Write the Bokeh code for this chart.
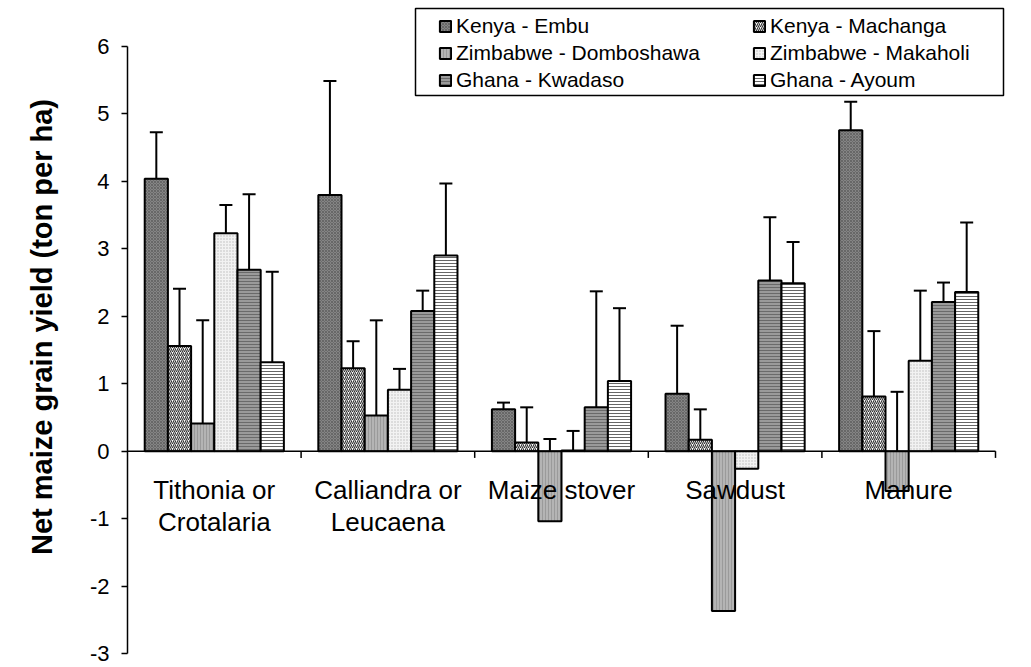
import numpy as np
from bokeh.plotting import figure
from bokeh.models import (ColumnDataSource, Range1d, FixedTicker, Whisker, TeeHead,
                          Legend, LegendItem, BoxAnnotation)
from bokeh.core.properties import value
from bokeh.embed import file_html
from bokeh.resources import INLINE

# ---------------- data ----------------
categories = ["Tithonia or\nCrotalaria", "Calliandra or\nLeucaena", "Maize stover", "Sawdust", "Manure"]
series_names = ["Kenya - Embu", "Kenya - Machanga", "Zimbabwe - Domboshawa",
                "Zimbabwe - Makaholi", "Ghana - Kwadaso", "Ghana - Ayoum"]

kenya_embu        = [4.04, 3.80, 0.62, 0.85, 4.76]
kenya_machanga    = [1.56, 1.23, 0.13, 0.17, 0.81]
zim_domboshawa    = [0.41, 0.53, -1.04, -2.37, -0.59]
zim_makaholi      = [3.23, 0.91, 0.01, -0.26, 1.34]
ghana_kwadaso     = [2.69, 2.08, 0.65, 2.53, 2.21]
ghana_ayoum       = [1.32, 2.90, 1.04, 2.49, 2.36]

err_kenya_embu     = [0.69, 1.69, 0.10, 1.01, 0.42]
err_kenya_machanga = [0.85, 0.40, 0.52, 0.45, 0.97]
err_zim_domboshawa = [1.53, 1.41, 1.22, 1.99, 1.47]
err_zim_makaholi   = [0.42, 0.31, 0.29, 0.06, 1.04]
err_ghana_kwadaso  = [1.12, 0.30, 1.72, 0.94, 0.29]
err_ghana_ayoum    = [1.34, 1.07, 1.08, 0.61, 1.03]

y_ticks = [-3, -2, -1, 0, 1, 2, 3, 4, 5, 6]
y_tick_labels = ["-3", "-2", "-1", "0", "1", "2", "3", "4", "5", "6"]
y_title = "Net maize grain yield (ton per ha)"

values = [kenya_embu, kenya_machanga, zim_domboshawa, zim_makaholi, ghana_kwadaso, ghana_ayoum]
errors = [err_kenya_embu, err_kenya_machanga, err_zim_domboshawa, err_zim_makaholi,
          err_ghana_kwadaso, err_ghana_ayoum]

# ---------------- styles ----------------
styles = [
    dict(fill_color="#858585", hatch_pattern="x", hatch_color="#5a5a5a", hatch_scale=3, hatch_weight=0.7),
    dict(fill_color="#ffffff", hatch_pattern="/", hatch_color="#303030", hatch_scale=4, hatch_weight=1.1),
    dict(fill_color="#b4b4b4", hatch_pattern="|", hatch_color="#9a9a9a", hatch_scale=3, hatch_weight=1),
    dict(fill_color="#f2f2f2", hatch_pattern="dot", hatch_color="#bcbcbc", hatch_scale=3, hatch_weight=1),
    dict(fill_color="#9a9a9a", hatch_pattern="-", hatch_color="#6a6a6a", hatch_scale=3, hatch_weight=1),
    dict(fill_color="#ffffff", hatch_pattern="-", hatch_color="#666666", hatch_scale=3, hatch_weight=1),
]

FONT = "Liberation Sans"
n_cat = len(categories)
n_ser = len(series_names)
bar_w = 0.1336

# layout (pixels)
W, H = 1031, 667
frame_left, axis_right, frame_bottom, y6_px = 127, 995, 653, 46
px_per_cat = (axis_right - frame_left) / n_cat
px_per_unit = (frame_bottom - y6_px) / 9.0
x_max = n_cat + (W - axis_right) / px_per_cat
y_max = 6 + y6_px / px_per_unit

p = figure(width=W, height=H, x_range=Range1d(0, x_max), y_range=Range1d(-3, y_max),
           output_backend="svg", toolbar_location=None, x_axis_location=None,
           min_border_left=frame_left, min_border_right=0, min_border_top=0,
           min_border_bottom=H - frame_bottom)
p.outline_line_color = None
p.xgrid.visible = False
p.ygrid.visible = False
p.background_fill_color = "white"

yax = p.yaxis[0]
yax.bounds = (-3, 6)
yax.ticker = FixedTicker(ticks=y_ticks)
yax.major_label_overrides = {t: l for t, l in zip(y_ticks, y_tick_labels)}
yax.major_tick_out = 6
yax.major_tick_in = 0
yax.minor_tick_out = 0
yax.minor_tick_in = 0
yax.axis_line_width = 1.5
yax.major_tick_line_width = 1.5
yax.axis_line_color = "black"
yax.major_tick_line_color = "black"
yax.major_label_text_font = FONT
yax.major_label_text_font_size = "22px"
yax.major_label_text_color = "black"
yax.major_label_standoff = 12
yax.axis_label = y_title
yax.axis_label_text_font = FONT
yax.axis_label_text_font_size = "29px"
yax.axis_label_text_font_style = "bold"
yax.axis_label_text_color = "black"
yax.axis_label_standoff = 29

legend_items = []
for j in range(n_ser):
    xs = [i + 0.5 + (j - (n_ser - 1) / 2) * bar_w for i in range(n_cat)]
    vals = values[j]
    uppers = [v + e for v, e in zip(vals, errors[j])]
    src = ColumnDataSource(dict(x=xs, top=vals, upper=uppers))
    r = p.vbar(x="x", top="top", bottom=0, width=bar_w, source=src,
               line_color="black", line_width=2, **styles[j])
    legend_items.append(LegendItem(label=series_names[j], renderers=[r]))
    w = Whisker(source=src, base="x", lower="top", upper="upper", dimension="height",
                line_color="black", line_width=2,
                upper_head=TeeHead(size=13, line_width=2, line_color="black"), lower_head=None)
    p.add_layout(w)

# x axis line at zero with category-boundary ticks
p.segment(x0=[0], y0=[0], x1=[n_cat], y1=[0], line_color="black", line_width=1.5)
bounds = list(range(1, n_cat + 1))
p.segment(x0=bounds, y0=[0] * len(bounds), x1=bounds, y1=[-0.1] * len(bounds),
          line_color="black", line_width=1.5)

# category labels
p.text(x=[i + 0.5 for i in range(n_cat)], y=[0] * n_cat, text=categories,
       y_offset=24, text_align="center", text_baseline="top",
       text_font=value(FONT), text_font_size="26px", text_color="black",
       text_line_height=1.07)

# legend box
p.add_layout(BoxAnnotation(left=415, right=1003, top=8, bottom=95,
                           left_units="canvas", right_units="canvas",
                           top_units="canvas", bottom_units="canvas",
                           fill_color="white", fill_alpha=1,
                           line_color="black", line_width=1.5, line_alpha=1))

legend = Legend(items=legend_items, location=(306, 556), orientation="horizontal", ncols=2,
                padding=5, spacing=3, glyph_width=14, glyph_height=14, label_height=21,
                label_width=293, label_standoff=4,
                label_text_font=FONT, label_text_font_size="21px", label_text_color="black",
                border_line_alpha=0, background_fill_alpha=0)
p.add_layout(legend)

open("out.html", "w").write(file_html(p, INLINE))
